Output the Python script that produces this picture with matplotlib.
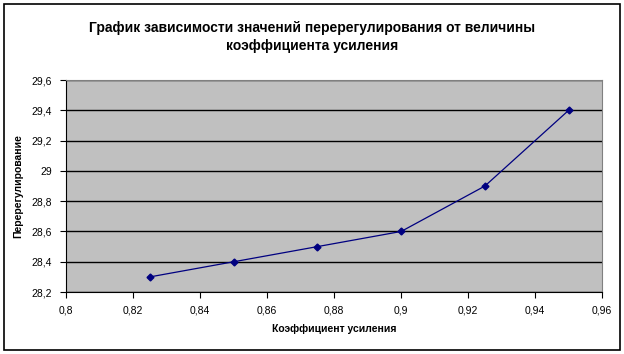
import matplotlib.pyplot as plt
from matplotlib.patches import Rectangle
from matplotlib.ticker import FuncFormatter
import numpy as np

plt.rcParams['font.family'] = ['Liberation Sans', 'DejaVu Sans']

gain = [0.825, 0.85, 0.875, 0.9, 0.925, 0.95]
overshoot = [28.3, 28.4, 28.5, 28.6, 28.9, 29.4]
x_ticks = np.arange(0.80, 0.961, 0.02)
y_ticks = np.arange(28.2, 29.61, 0.2)

fig = plt.figure(figsize=(6.24, 3.54), dpi=100)
ax = fig.add_axes([0.106, 0.175, 0.859, 0.599])
ax.set_facecolor('#C0C0C0')

ax.plot(gain, overshoot, color='#000080', lw=0.9, marker='D', markersize=3.5)

ax.set_xlim(0.8, 0.96)
ax.set_ylim(28.2, 29.6)
ax.set_xticks(x_ticks)
ax.set_yticks(y_ticks)

def comma(v, pos):
    s = ('%.2f' % v).rstrip('0').rstrip('.')
    return s.replace('.', ',')

ax.xaxis.set_major_formatter(FuncFormatter(comma))
ax.yaxis.set_major_formatter(FuncFormatter(comma))
ax.tick_params(labelsize=7.5, length=4, width=0.8, direction='out', pad=6)
ax.grid(axis='y', color='black', lw=1)
ax.set_axisbelow(True)

for s in ['top', 'right']:
    ax.spines[s].set_color('#808080')
for s in ['left', 'bottom']:
    ax.spines[s].set_color('black')

ax.set_xlabel('Коэффициент усиления', fontsize=7.5, fontweight='bold', labelpad=6)
ax.set_ylabel('Перерегулирование', fontsize=7.5, fontweight='bold', labelpad=6)
fig.text(0.5, 0.895, 'График зависимости значений перерегулирования от величины\nкоэффициента усиления',
         ha='center', va='center', fontsize=10, fontweight='bold', linespacing=1.4)

fig.patches.append(Rectangle((0.006, 0.012), 0.988, 0.976, transform=fig.transFigure,
                             fill=False, edgecolor='black', lw=1.2))

plt.savefig('out.png', dpi=100)
